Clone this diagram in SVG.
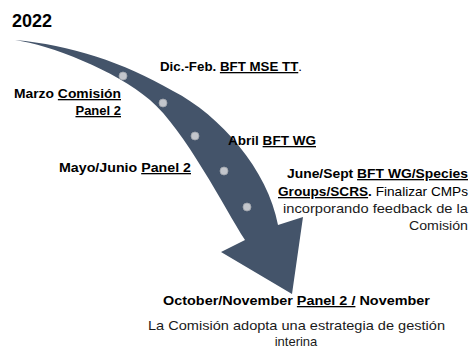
<svg xmlns="http://www.w3.org/2000/svg" width="469" height="349" viewBox="0 0 469 349">
<style>
text{font-family:"Liberation Sans",Arial,sans-serif;font-size:13px;fill:#1a1a1a}
.b{font-weight:bold;fill:#000}
.r{font-weight:normal}
.u{text-decoration:underline}
.yr{font-size:18px;font-weight:bold;fill:#000}
.dot{fill:#c3c6cc;stroke:#9ea3ab;stroke-width:0.8}
</style>
<rect width="469" height="349" fill="#fff"/>
<g id="connectors">
<path id="arrow" d="M15,40 C70,45 123,62 173,91 C220,115 268,170 278,225 L303,217 L292,294 L221,252 L245,240 C225,209 185,130 150,100 C115,70 50,45 15,40 Z" fill="#44546a"/>
</g>
<g id="dots">
<circle class="dot" cx="123" cy="76" r="4"/>
<circle class="dot" cx="163" cy="103" r="4"/>
<circle class="dot" cx="195" cy="136" r="4"/>
<circle class="dot" cx="224" cy="171" r="4"/>
<circle class="dot" cx="247" cy="207" r="4"/>
</g>
<g id="year"><text class="yr" x="12" y="27">2022</text></g>
<g id="dicfeb"><text class="b" x="160" y="71" textLength="142" lengthAdjust="spacingAndGlyphs">Dic.-Feb. <tspan class="u">BFT MSE TT</tspan><tspan class="r">.</tspan></text></g>
<g id="marzo">
<text class="b" x="121" y="98" text-anchor="end" textLength="107" lengthAdjust="spacingAndGlyphs">Marzo <tspan class="u">Comisión</tspan></text>
<text class="b u" x="121" y="115" text-anchor="end">Panel 2</text>
</g>
<g id="abril"><text class="b" x="228" y="145" textLength="88" lengthAdjust="spacingAndGlyphs">Abril <tspan class="u">BFT WG</tspan></text></g>
<g id="mayo"><text class="b" x="59" y="172" textLength="132" lengthAdjust="spacingAndGlyphs">Mayo/Junio <tspan class="u">Panel 2</tspan></text></g>
<g id="june">
<text class="b" x="468" y="178" text-anchor="end" textLength="181" lengthAdjust="spacingAndGlyphs">June/Sept <tspan class="u">BFT WG/Species</tspan></text>
<text class="b" x="468" y="196" text-anchor="end" textLength="190" lengthAdjust="spacingAndGlyphs"><tspan class="u">Groups/SCRS</tspan>.<tspan class="r"> Finalizar CMPs</tspan></text>
<text x="468" y="213" text-anchor="end" textLength="185" lengthAdjust="spacingAndGlyphs">incorporando feedback de la</text>
<text x="468" y="230" text-anchor="end" textLength="59" lengthAdjust="spacingAndGlyphs">Comisión</text>
</g>
<g id="october">
<text class="b" x="163" y="305" textLength="267" lengthAdjust="spacingAndGlyphs">October/November <tspan class="u">Panel 2 /</tspan> November</text>
<text x="148" y="330" textLength="297" lengthAdjust="spacingAndGlyphs">La Comisión adopta una estrategia de gestión</text>
<text x="296" y="346" text-anchor="middle">interina</text>
</g>
</svg>
